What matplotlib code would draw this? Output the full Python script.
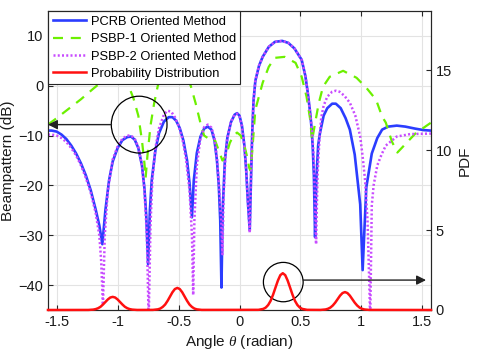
import numpy as np
import matplotlib
matplotlib.use("Agg")
import matplotlib.pyplot as plt
from matplotlib.patches import Ellipse

plt.rcParams['font.family'] = ['Liberation Sans', 'DejaVu Sans']
plt.rcParams['mathtext.fontset'] = 'custom'
plt.rcParams['mathtext.it'] = 'Liberation Serif:italic'

# PCRB oriented method (angle rad, dB)
pcrb_theta = [-1.571, -1.54, -1.50, -1.46, -1.42, -1.38, -1.34, -1.30, -1.26, -1.22, -1.18, -1.15, -1.125,
              -1.10, -1.07, -1.04, -1.00, -0.96, -0.92, -0.89, -0.86, -0.83, -0.80, -0.78, -0.765, -0.75,
              -0.735, -0.72, -0.69, -0.66, -0.62, -0.58, -0.55, -0.52, -0.49, -0.46, -0.43, -0.41, -0.39,
              -0.375, -0.35, -0.32, -0.29, -0.26, -0.23, -0.205, -0.185, -0.17, -0.158, -0.148, -0.138,
              -0.12, -0.10, -0.07, -0.04, -0.02, 0.00, 0.02, 0.04, 0.055, 0.068, 0.084, 0.095, 0.105,
              0.115, 0.13, 0.16, 0.19, 0.24, 0.29, 0.35, 0.40, 0.45, 0.51, 0.54, 0.56, 0.58, 0.59, 0.60,
              0.61, 0.62, 0.63, 0.645, 0.66, 0.69, 0.72, 0.76, 0.79, 0.83, 0.87, 0.905, 0.945, 0.99, 1.01,
              1.04, 1.085, 1.13, 1.17, 1.22, 1.29, 1.36, 1.44, 1.51, 1.571]
pcrb_db = [-9.0, -9.0, -9.2, -9.8, -10.7, -12.0, -13.6, -15.6, -18.0, -21.0, -24.8, -28.0, -31.8,
           -25.0, -19.0, -15.2, -12.5, -10.9, -10.3, -10.2, -10.8, -12.5, -16.0, -20.5, -26.0, -35.8,
           -25.0, -19.0, -13.0, -9.5, -7.2, -6.3, -6.3, -7.0, -8.5, -11.0, -15.0, -19.5, -26.4,
           -19.0, -13.5, -10.2, -8.6, -8.2, -8.8, -11.0, -15.0, -20.0, -27.0, -40.5, -25.0,
           -15.0, -10.5, -7.3, -5.8, -5.5, -6.0, -8.0, -12.0, -17.0, -23.0, -29.0, -18.0, -9.0,
           -3.0, 1.0, 4.0, 5.8, 7.8, 8.8, 9.0, 8.6, 7.5, 5.2, 2.0, -1.4, -5.5, -8.2, -12.0,
           -18.0, -30.4, -19.0, -12.0, -9.5, -6.0, -4.5, -3.6, -3.6, -4.5, -6.5, -8.8, -13.8, -23.8, -37.0,
           -20.4, -13.6, -10.5, -8.8, -8.2, -8.0, -8.2, -8.6, -8.9, -9.0]

# PSBP-1 oriented method
psbp1_theta = [-1.571, -1.50, -1.40, -1.30, -1.20, -1.17, -1.10, -1.04, -0.97, -0.91, -0.87, -0.83, -0.80,
               -0.78, -0.77, -0.755, -0.73, -0.70, -0.67, -0.62, -0.54, -0.46, -0.40, -0.36, -0.32,
               -0.29, -0.26, -0.23, -0.20, -0.17, -0.14, -0.11, -0.08, -0.05, -0.02, 0.01, 0.04, 0.06,
               0.08, 0.09, 0.10, 0.13, 0.19, 0.24, 0.29, 0.37, 0.46, 0.51, 0.55, 0.58, 0.595, 0.62, 0.65,
               0.685, 0.74, 0.85, 0.96, 1.04, 1.12, 1.17, 1.20, 1.25, 1.295, 1.33, 1.38, 1.45, 1.50, 1.571]
psbp1_db = [-7.8, -6.5, -4.6, -2.7, -0.6, 0.0, 1.5, 2.0, 1.5, 0.0, -2.5, -6.0, -11.0,
            -15.5, -18.5, -14.0, -8.0, -3.5, 0.0, 3.0, 4.5, 3.0, 0.0, -3.5, -7.5,
            -10.0, -10.5, -10.3, -11.0, -13.0, -15.0, -14.0, -11.5, -10.0, -9.4, -10.0, -12.0, -14.0,
            -16.5, -17.0, -14.5, -4.8, 0.6, 3.8, 5.6, 5.8, 4.6, 1.8, -2.2, -6.8, -11.0, -7.5, -3.5,
            -0.2, 1.8, 3.0, 1.6, -0.4, -2.8, -6.2, -7.4, -11.2, -13.4, -12.5, -11.2, -9.4, -8.6, -7.4]

# PSBP-2 oriented method
psbp2_theta = [-1.571, -1.54, -1.50, -1.46, -1.42, -1.38, -1.34, -1.30, -1.26, -1.22, -1.18, -1.15, -1.135,
               -1.12, -1.105, -1.08, -1.04, -1.00, -0.96, -0.92, -0.89, -0.86, -0.83, -0.80, -0.78, -0.76,
               -0.745, -0.73, -0.715, -0.69, -0.66, -0.62, -0.59, -0.56, -0.53, -0.50, -0.47, -0.44, -0.41,
               -0.39, -0.38, -0.37, -0.35, -0.32, -0.29, -0.26, -0.23, -0.205, -0.185, -0.165, -0.15, -0.14,
               -0.13, -0.115, -0.10, -0.07, -0.04, -0.02, 0.00, 0.02, 0.04, 0.055, 0.068, 0.084, 0.095,
               0.105, 0.115, 0.13, 0.16, 0.19, 0.24, 0.29, 0.35, 0.40, 0.45, 0.51, 0.54, 0.56, 0.58, 0.595,
               0.61, 0.628, 0.64, 0.655, 0.67, 0.69, 0.72, 0.76, 0.79, 0.82, 0.86, 0.905, 0.95, 0.99, 1.01,
               1.03, 1.05, 1.065, 1.072, 1.085, 1.10, 1.13, 1.165, 1.20, 1.29, 1.40, 1.571]
psbp2_db = [-9.8, -9.8, -10.0, -10.5, -11.3, -12.5, -14.0, -16.0, -18.5, -21.5, -25.5, -30.0, -35.0,
            -44.0, -30.0, -21.0, -14.8, -12.2, -10.6, -10.0, -10.0, -10.6, -12.3, -16.0, -21.0, -30.0,
            -47.0, -28.0, -19.0, -12.5, -8.5, -5.8, -5.0, -5.2, -6.3, -8.0, -10.5, -14.5, -21.0,
            -30.0, -42.0, -27.0, -16.0, -10.5, -8.3, -7.8, -8.4, -10.5, -14.5, -21.0, -27.0, -33.8,
            -22.0, -14.0, -10.5, -7.2, -5.8, -5.6, -6.2, -8.2, -12.2, -17.0, -23.0, -29.5, -18.0,
            -9.0, -3.0, 1.0, 4.0, 5.8, 7.8, 8.8, 9.0, 8.6, 7.5, 5.2, 2.0, -1.4, -5.5, -9.0,
            -15.0, -31.8, -18.0, -11.0, -6.5, -4.0, -2.2, -1.2, -1.0, -1.2, -2.0, -3.4, -6.0, -10.2, -14.2,
            -19.0, -27.0, -40.0, -47.0, -24.0, -20.0, -16.0, -13.8, -12.0, -10.2, -9.7, -9.6]

# Probability distribution (angle rad, pdf)
pdf_theta = [-1.571, -1.24, -1.20, -1.18, -1.16, -1.14, -1.12, -1.10, -1.08, -1.06, -1.04, -1.02, -1.00,
             -0.98, -0.96, -0.94, -0.92, -0.90, -0.88, -0.84, -0.71, -0.67, -0.65, -0.63, -0.61, -0.59,
             -0.57, -0.55, -0.53, -0.51, -0.49, -0.47, -0.45, -0.43, -0.41, -0.39, -0.37, -0.35, -0.31,
             0.155, 0.195, 0.215, 0.235, 0.255, 0.275, 0.295, 0.315, 0.335, 0.355, 0.375, 0.395, 0.415,
             0.435, 0.455, 0.475, 0.495, 0.515, 0.555, 0.665, 0.705, 0.725, 0.745, 0.765, 0.785, 0.805,
             0.825, 0.845, 0.865, 0.885, 0.905, 0.925, 0.945, 0.965, 0.985, 1.005, 1.025, 1.065, 1.571]
pdf_val = [0.0, 0.003, 0.024, 0.054, 0.11, 0.20, 0.34, 0.50, 0.66, 0.78, 0.82, 0.78, 0.66,
           0.50, 0.34, 0.20, 0.11, 0.054, 0.024, 0.003, 0.006, 0.04, 0.09, 0.19, 0.34, 0.57,
           0.84, 1.11, 1.31, 1.38, 1.31, 1.11, 0.84, 0.57, 0.34, 0.19, 0.09, 0.04, 0.006,
           0.01, 0.067, 0.15, 0.31, 0.57, 0.95, 1.40, 1.84, 2.18, 2.30, 2.18, 1.84, 1.40,
           0.95, 0.57, 0.31, 0.15, 0.067, 0.01, 0.005, 0.032, 0.074, 0.15, 0.28, 0.46, 0.68,
           0.90, 1.06, 1.12, 1.06, 0.90, 0.68, 0.46, 0.28, 0.15, 0.074, 0.032, 0.005, 0.0]

xticks = [-1.5, -1, -0.5, 0, 0.5, 1, 1.5]
xticklabels = ['-1.5', '-1', '-0.5', '0', '0.5', '1', '1.5']
yticks_left = [-40, -30, -20, -10, 0, 10]
yticks_right = [0, 5, 10, 15]

c_blue = '#2b3dff'
c_green = '#6cf000'
c_mag = '#c84bff'
c_red = '#ff1010'
axcol = '#262626'

fig = plt.figure(figsize=(4.78, 3.55), dpi=100)
ax = fig.add_axes([0.1004, 0.1268, 0.8013, 0.8422])
ax2 = ax.twinx()

l1, = ax.plot(pcrb_theta, pcrb_db, color=c_blue, lw=1.9, label='PCRB Oriented Method', zorder=3)
l2, = ax.plot(psbp1_theta, psbp1_db, color=c_green, lw=1.6, dashes=(4.5, 3.5), label='PSBP-1 Oriented Method', zorder=4)
l3, = ax.plot(psbp2_theta, psbp2_db, color=c_mag, lw=1.8, dashes=(0.8, 0.9), label='PSBP-2 Oriented Method', zorder=5)
l4, = ax2.plot(pdf_theta, pdf_val, color=c_red, lw=1.8, label='Probability Distribution', clip_on=False, zorder=3)

ax.set_xlim(-np.pi / 2, np.pi / 2)
ax.set_ylim(-45, 15)
ax2.set_ylim(0, 18.7)

ax.set_xticks(xticks)
ax.set_xticklabels(xticklabels)
ax.set_yticks(yticks_left)
ax2.set_yticks(yticks_right)

ax.grid(True, color='#e3e3e3', lw=0.8)
ax.set_axisbelow(True)

for a in (ax, ax2):
    for s in a.spines.values():
        s.set_color(axcol)
        s.set_linewidth(0.8)
ax.tick_params(direction='in', length=3.5, width=0.8, colors=axcol, labelsize=10.5, top=True, right=False,
               labelcolor='#1a1a1a')
ax2.tick_params(direction='in', length=3.5, width=0.8, colors=axcol, labelsize=10.5, labelcolor='#1a1a1a')

ax.set_xlabel(r'Angle $\theta$ (radian)', fontsize=11, color='#1a1a1a', labelpad=3)
ax.set_ylabel('Beampattern (dB)', fontsize=11, color='#1a1a1a', labelpad=2)
ax2.set_ylabel('PDF', fontsize=11, color='#1a1a1a', labelpad=4)

# annotations
ax.add_patch(Ellipse((-0.823, -7.8), 0.457, 11.4, fill=False, ec='black', lw=0.9, zorder=6))
ax.annotate('', xy=(-1.571, -7.8), xytext=(-1.05, -7.8),
            arrowprops=dict(arrowstyle='-|>', color='#222222', lw=1.0, mutation_scale=14,
                            shrinkA=0, shrinkB=0), annotation_clip=False, zorder=6)
ax.add_patch(Ellipse((0.359, -39.4), 0.326, 7.9, fill=False, ec='black', lw=0.9, zorder=6))
ax.annotate('', xy=(1.53, -39.0), xytext=(0.522, -39.0),
            arrowprops=dict(arrowstyle='-|>', color='#222222', lw=1.0, mutation_scale=14,
                            shrinkA=0, shrinkB=0), zorder=6)

leg = ax.legend(handles=[l1, l2, l3, l4], loc='upper left', fontsize=9.3, frameon=True, fancybox=False,
                borderaxespad=0.0, handlelength=2.6, handletextpad=0.35, borderpad=0.35, labelspacing=0.42,
                borderaxespad_=None) if False else ax.legend(
                handles=[l1, l2, l3, l4], loc='upper left', fontsize=9.3, frameon=True, fancybox=False,
                borderaxespad=0.0, handlelength=2.6, handletextpad=0.35, borderpad=0.35, labelspacing=0.42)
leg.get_frame().set_edgecolor(axcol)
leg.get_frame().set_linewidth(0.8)
leg.get_frame().set_alpha(1)
leg.set_zorder(10)

fig.savefig('out.png', dpi=100)
